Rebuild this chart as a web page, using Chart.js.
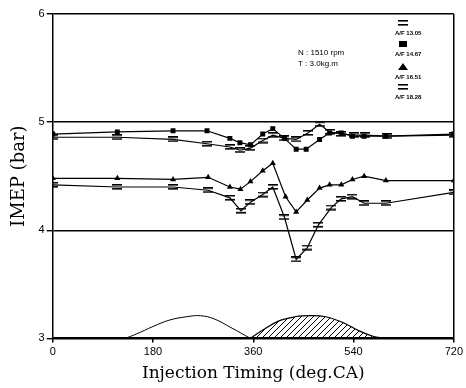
<!DOCTYPE html>
<html>
<head>
<meta charset="utf-8">
<script src="https://cdn.jsdelivr.net/npm/chart.js@4"></script>
<style>
  body { margin: 0; background: #fff; }
  #wrap { width: 466px; height: 388px; }
</style>
</head>
<body>
<div id="wrap"><canvas id="chart_imep"></canvas></div>
<script>
// injection timing (deg CA) and IMEP (bar)
var deg1305 = [0, 116, 216, 277, 318, 336, 355, 377, 395, 416, 437, 458, 479, 497, 518, 540, 560, 600, 720];
var imep1305 = [4.86, 4.86, 4.84, 4.80, 4.77, 4.74, 4.76, 4.83, 4.88, 4.85, 4.84, 4.90, 4.98, 4.91, 4.89, 4.88, 4.88, 4.87, 4.88];
var deg1467 = [0, 116, 216, 277, 318, 336, 355, 377, 395, 416, 437, 455, 479, 497, 518, 538, 559, 598, 720];
var imep1467 = [4.89, 4.91, 4.92, 4.92, 4.85, 4.81, 4.79, 4.89, 4.94, 4.85, 4.75, 4.75, 4.84, 4.90, 4.90, 4.87, 4.87, 4.87, 4.89];
var deg1651 = [0, 116, 216, 279, 318, 337, 355, 377, 395, 418, 437, 457, 479, 497, 518, 538, 559, 598, 720];
var imep1651 = [4.48, 4.48, 4.47, 4.49, 4.40, 4.38, 4.45, 4.55, 4.62, 4.31, 4.17, 4.28, 4.39, 4.42, 4.42, 4.47, 4.50, 4.46, 4.46];
var deg1828 = [0, 116, 216, 279, 318, 338, 355, 377, 395, 416, 437, 457, 477, 500, 518, 538, 559, 598, 720];
var imep1828 = [4.42, 4.40, 4.40, 4.37, 4.30, 4.18, 4.26, 4.33, 4.40, 4.12, 3.73, 3.84, 4.05, 4.21, 4.29, 4.31, 4.25, 4.25, 4.35];

// valve lift humps at the bottom (drawn on the IMEP scale)
var intakeDeg = [130, 150, 180, 210, 240, 265, 290, 320, 355];
var intakeLift = [3.00, 3.04, 3.11, 3.17, 3.20, 3.21, 3.18, 3.10, 3.00];
var hatchDeg = [355, 375, 405, 435, 465, 490, 520, 550, 575, 595];
var hatchLift = [3.00, 3.07, 3.16, 3.20, 3.21, 3.20, 3.15, 3.07, 3.02, 3.00];

var xTicks = [0, 180, 360, 540, 720];
var yTicks = [3, 4, 5, 6];
var legendLabels = ['A/F 13.05', 'A/F 14.67', 'A/F 16.51', 'A/F 18.28'];
var condLabels = ['N : 1510 rpm', 'T : 3.0kg.m'];

function pts(xs, ys) {
  return xs.map(function (x, i) { return { x: x, y: ys[i] }; });
}

// "=" marker
var eqMark = document.createElement('canvas');
eqMark.width = 10; eqMark.height = 6;
(function () {
  var c = eqMark.getContext('2d');
  c.fillStyle = '#000';
  c.fillRect(0, 0, 10, 1.6);
  c.fillRect(0, 4, 10, 1.6);
})();

// hatch pattern
var hatchCanvas = document.createElement('canvas');
hatchCanvas.width = 6; hatchCanvas.height = 6;
(function () {
  var c = hatchCanvas.getContext('2d');
  c.strokeStyle = '#000';
  c.lineWidth = 1;
  c.beginPath();
  c.moveTo(0, 6); c.lineTo(6, 0);
  c.moveTo(-1, 1); c.lineTo(1, -1);
  c.moveTo(5, 7); c.lineTo(7, 5);
  c.stroke();
})();
var hatch = document.createElement('canvas').getContext('2d').createPattern(hatchCanvas, 'repeat');

var markerStyles = [eqMark, 'rect', 'triangle', eqMark];

function series(label, xs, ys, style) {
  return {
    label: label,
    data: pts(xs, ys),
    borderColor: '#000',
    backgroundColor: '#000',
    borderWidth: 1.2,
    pointStyle: style,
    pointRadius: 3.5,
    pointBorderWidth: 0,
    tension: 0
  };
}

var chart_imep = new Chart(document.getElementById('chart_imep'), {
  type: 'line',
  data: {
    datasets: [
      series(legendLabels[0], deg1305, imep1305, markerStyles[0]),
      series(legendLabels[1], deg1467, imep1467, markerStyles[1]),
      series(legendLabels[2], deg1651, imep1651, markerStyles[2]),
      series(legendLabels[3], deg1828, imep1828, markerStyles[3]),
      {
        label: 'intake',
        data: pts(intakeDeg, intakeLift),
        borderColor: '#000',
        borderWidth: 1,
        pointRadius: 0,
        tension: 0.4,
        fill: false
      },
      {
        label: 'injection',
        data: pts(hatchDeg, hatchLift),
        borderColor: '#000',
        backgroundColor: hatch,
        borderWidth: 1.2,
        pointRadius: 0,
        tension: 0.4,
        fill: { value: 3 }
      }
    ]
  },
  options: {
    animation: false,
    responsive: true,
    maintainAspectRatio: false,
    layout: { padding: { top: 14, right: 8, left: 9, bottom: 2 } },
    plugins: {
      legend: { display: false },
      tooltip: { enabled: false }
    },
    scales: {
      x: {
        type: 'linear',
        min: 0,
        max: 720,
        afterBuildTicks: function (s) { s.ticks = xTicks.map(function (v) { return { value: v }; }); },
        ticks: { color: '#000', font: { family: 'Liberation Sans', size: 11 }, padding: 3, maxRotation: 0 },
        grid: {
          color: function (c) { return c.tick && c.tick.value === 720 ? '#000' : 'rgba(0,0,0,0)'; },
          tickColor: '#000',
          tickLength: 4,
          lineWidth: 1.5
        },
        border: { color: '#000', width: 2 },
        title: {
          display: true,
          text: 'Injection Timing (deg.CA)',
          color: '#000',
          font: { family: 'DejaVu Serif', size: 17 },
          padding: { top: 2, bottom: 2 }
        }
      },
      y: {
        min: 3,
        max: 6,
        afterBuildTicks: function (s) { s.ticks = yTicks.map(function (v) { return { value: v }; }); },
        ticks: { color: '#000', font: { family: 'Liberation Sans', size: 11 }, padding: 2 },
        grid: { color: '#000', tickColor: '#000', tickLength: 6, lineWidth: 1.4 },
        border: { color: '#000', width: 1.5 },
        title: {
          display: true,
          text: 'IMEP (bar)',
          color: '#000',
          font: { family: 'DejaVu Serif', size: 18 },
          padding: { top: 0, bottom: 6 }
        }
      }
    }
  },
  plugins: [{
    id: 'notes',
    afterDraw: function (chart) {
      var ctx = chart.ctx;
      ctx.save();
      ctx.fillStyle = '#000';
      ctx.textBaseline = 'middle';
      ctx.textAlign = 'left';
      ctx.font = '8px "Liberation Sans"';
      ctx.fillText(condLabels[0], 298, 53);
      ctx.fillText(condLabels[1], 298, 64);
      ctx.font = 'bold 6px "Liberation Sans"';
      var mx = 403, ys = [23, 44, 67, 87];
      for (var i = 0; i < legendLabels.length; i++) {
        var y = ys[i];
        var st = markerStyles[i];
        if (st === eqMark) {
          ctx.drawImage(eqMark, mx - 5, y - 3);
        } else if (st === 'rect') {
          ctx.fillRect(mx - 4, y - 3, 8, 6);
        } else {
          ctx.beginPath();
          ctx.moveTo(mx - 5, y + 3); ctx.lineTo(mx, y - 4); ctx.lineTo(mx + 5, y + 3);
          ctx.closePath(); ctx.fill();
        }
        ctx.fillText(legendLabels[i], mx - 8, y + 10);
      }
      ctx.restore();
    }
  }, {
    id: 'whiteBg',
    beforeDraw: function (chart) {
      var ctx = chart.ctx;
      ctx.save();
      ctx.globalCompositeOperation = 'destination-over';
      ctx.fillStyle = 'white';
      ctx.fillRect(0, 0, chart.width, chart.height);
      ctx.restore();
    }
  }]
});
</script>
</body>
</html>
